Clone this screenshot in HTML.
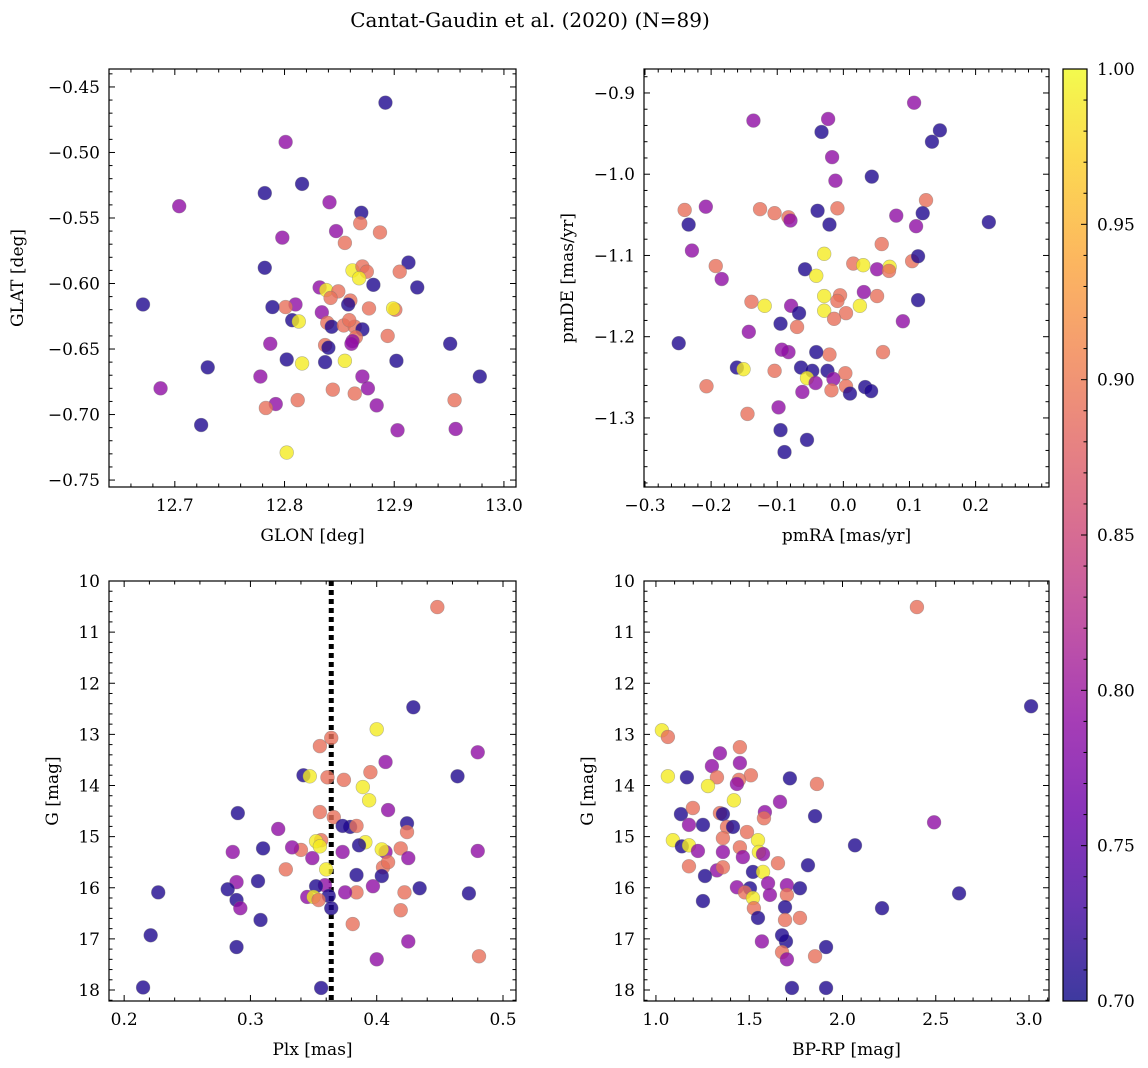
<!DOCTYPE html>
<html><head><meta charset="utf-8"><style>
html,body{margin:0;padding:0;background:#fff;}
svg{display:block;font-family:"DejaVu Serif","Liberation Serif",serif;}
</style></head><body>
<svg id="fig" width="1148" height="1068" viewBox="0 0 1148 1068" xmlns="http://www.w3.org/2000/svg">
<text x="530" y="27" font-size="20" text-anchor="middle">Cantat-Gaudin et al. (2020) (N=89)</text>
</svg>
<script>
// ---- Panel 1: GLON vs GLAT ----
const p1x=[12.892,12.801,12.704,12.816,12.782,12.841,12.870,12.869,12.847,12.887,12.855,12.798,12.782,12.862,12.913,12.905,12.871,12.875,12.868,12.671,12.921,12.881,12.832,12.838,12.849,12.842,12.860,12.858,12.810,12.801,12.789,12.807,12.813,12.901,12.899,12.877,12.834,12.839,12.843,12.854,12.864,12.871,12.859,12.865,12.862,12.837,12.840,12.861,12.894,12.787,12.802,12.816,12.837,12.855,12.902,12.951,12.730,12.687,12.871,12.876,12.844,12.778,12.792,12.783,12.812,12.864,12.884,12.903,12.955,12.956,12.978,12.724,12.802];
const p1y=[-0.462,-0.492,-0.541,-0.524,-0.531,-0.538,-0.546,-0.554,-0.560,-0.561,-0.569,-0.565,-0.588,-0.590,-0.584,-0.591,-0.587,-0.591,-0.596,-0.616,-0.603,-0.601,-0.603,-0.605,-0.606,-0.611,-0.613,-0.616,-0.616,-0.618,-0.618,-0.628,-0.629,-0.620,-0.619,-0.619,-0.622,-0.630,-0.633,-0.632,-0.633,-0.635,-0.628,-0.641,-0.644,-0.647,-0.649,-0.646,-0.640,-0.646,-0.658,-0.661,-0.660,-0.659,-0.659,-0.646,-0.664,-0.680,-0.671,-0.680,-0.681,-0.671,-0.692,-0.695,-0.689,-0.684,-0.693,-0.712,-0.689,-0.711,-0.671,-0.708,-0.729];
const p1p=[0.71,0.79,0.79,0.71,0.71,0.79,0.71,0.89,0.79,0.89,0.89,0.79,0.71,0.99,0.71,0.89,0.89,0.89,0.99,0.71,0.71,0.71,0.79,0.99,0.89,0.89,0.89,0.71,0.79,0.89,0.71,0.71,0.99,0.89,0.99,0.89,0.79,0.89,0.71,0.89,0.89,0.71,0.89,0.89,0.79,0.89,0.71,0.79,0.89,0.79,0.71,0.99,0.71,0.99,0.71,0.71,0.71,0.79,0.79,0.79,0.89,0.79,0.79,0.89,0.89,0.89,0.79,0.79,0.89,0.79,0.71,0.71,0.99];
// ---- Panel 2: pmRA vs pmDE ----
const p2x=[0.107,-0.136,-0.023,0.146,-0.033,0.134,-0.017,-0.012,0.043,0.220,-0.240,-0.208,-0.234,-0.126,-0.104,-0.039,-0.009,0.080,0.125,0.120,0.110,-0.083,-0.080,-0.021,-0.229,-0.193,-0.184,-0.029,-0.058,-0.041,0.015,0.030,0.051,0.070,0.069,0.104,0.113,0.058,-0.029,0.031,0.051,-0.005,-0.139,-0.119,-0.079,0.025,0.113,-0.009,-0.029,0.004,-0.014,-0.067,-0.095,-0.070,0.090,-0.143,-0.249,-0.083,-0.093,0.060,-0.021,-0.041,-0.207,-0.161,-0.151,-0.104,-0.064,-0.047,-0.024,0.003,-0.055,-0.015,-0.042,0.004,-0.018,-0.098,0.033,0.042,0.010,-0.062,-0.145,-0.095,-0.055,-0.089];
const p2y=[-0.912,-0.934,-0.932,-0.946,-0.948,-0.960,-0.979,-1.008,-1.003,-1.059,-1.044,-1.040,-1.062,-1.043,-1.048,-1.045,-1.042,-1.051,-1.032,-1.048,-1.064,-1.053,-1.057,-1.062,-1.094,-1.113,-1.129,-1.098,-1.117,-1.125,-1.110,-1.112,-1.117,-1.114,-1.119,-1.107,-1.101,-1.086,-1.150,-1.145,-1.150,-1.149,-1.157,-1.162,-1.162,-1.162,-1.155,-1.156,-1.168,-1.171,-1.178,-1.171,-1.184,-1.188,-1.181,-1.194,-1.208,-1.219,-1.216,-1.219,-1.222,-1.219,-1.261,-1.238,-1.240,-1.242,-1.238,-1.242,-1.242,-1.245,-1.251,-1.252,-1.257,-1.261,-1.266,-1.287,-1.262,-1.267,-1.270,-1.268,-1.295,-1.315,-1.327,-1.342];
const p2p=[0.79,0.79,0.79,0.71,0.71,0.71,0.79,0.79,0.71,0.71,0.89,0.79,0.71,0.89,0.89,0.71,0.89,0.79,0.89,0.71,0.79,0.89,0.79,0.71,0.79,0.89,0.79,0.99,0.71,0.99,0.89,0.99,0.79,0.99,0.89,0.89,0.71,0.89,0.99,0.79,0.89,0.89,0.89,0.99,0.79,0.99,0.71,0.89,0.99,0.89,0.89,0.71,0.71,0.89,0.79,0.79,0.71,0.79,0.79,0.89,0.89,0.71,0.89,0.71,0.99,0.89,0.71,0.71,0.71,0.89,0.99,0.79,0.79,0.89,0.89,0.79,0.71,0.71,0.71,0.79,0.89,0.71,0.71,0.71];
// ---- Panel 3: Plx vs G ----
const p3x=[0.448,0.429,0.400,0.355,0.364,0.480,0.407,0.395,0.342,0.347,0.361,0.374,0.389,0.464,0.394,0.409,0.355,0.290,0.366,0.424,0.379,0.322,0.424,0.373,0.384,0.356,0.352,0.391,0.386,0.340,0.333,0.355,0.286,0.310,0.407,0.404,0.419,0.349,0.373,0.405,0.328,0.360,0.409,0.425,0.404,0.480,0.289,0.306,0.384,0.359,0.352,0.397,0.345,0.362,0.282,0.422,0.434,0.384,0.375,0.227,0.473,0.350,0.354,0.289,0.292,0.364,0.419,0.308,0.381,0.221,0.425,0.289,0.400,0.481,0.215,0.356];
const p3y=[10.51,12.47,12.90,13.23,13.07,13.35,13.54,13.74,13.80,13.82,13.84,13.89,14.03,13.82,14.29,14.48,14.52,14.54,14.62,14.74,14.81,14.85,14.91,14.79,14.79,15.07,15.09,15.11,15.17,15.26,15.21,15.19,15.30,15.23,15.30,15.25,15.23,15.42,15.30,15.60,15.64,15.64,15.50,15.42,15.77,15.28,15.89,15.87,15.75,15.95,15.97,15.97,16.18,16.16,16.03,16.09,16.01,16.09,16.09,16.09,16.11,16.18,16.24,16.24,16.40,16.40,16.44,16.63,16.71,16.93,17.05,17.16,17.40,17.34,17.95,17.96];
const p3p=[0.89,0.71,0.99,0.89,0.89,0.79,0.79,0.89,0.71,0.99,0.89,0.89,0.99,0.71,0.99,0.79,0.89,0.71,0.89,0.71,0.71,0.79,0.89,0.71,0.89,0.89,0.99,0.99,0.71,0.89,0.79,0.99,0.79,0.71,0.79,0.99,0.89,0.79,0.79,0.89,0.89,0.99,0.89,0.79,0.71,0.79,0.79,0.71,0.71,0.79,0.71,0.79,0.79,0.71,0.71,0.89,0.71,0.89,0.79,0.71,0.71,0.99,0.89,0.71,0.79,0.71,0.89,0.71,0.89,0.71,0.79,0.71,0.79,0.89,0.71,0.71];
const plxLine=0.364;
// ---- Panel 4: BP-RP vs G ----
const p4x=[1.032,1.064,1.343,1.450,1.450,1.300,1.509,1.445,1.434,1.327,1.166,1.064,1.279,1.718,1.863,1.418,1.665,1.584,1.579,1.853,1.134,1.198,1.343,1.359,1.177,1.252,1.381,1.413,1.488,1.359,1.091,1.139,1.177,1.225,1.450,1.547,1.552,1.574,1.359,1.466,2.067,1.177,1.327,1.359,1.263,1.520,1.574,1.654,1.815,1.434,1.504,1.477,1.520,1.525,1.601,1.611,1.702,1.702,1.772,1.252,1.692,1.547,1.692,1.772,1.697,1.568,1.676,1.676,1.702,1.853,1.912,1.729,1.912,2.399,3.011,2.491,2.625,2.212];
const p4y=[12.92,13.05,13.37,13.25,13.56,13.62,13.80,13.89,13.97,13.84,13.84,13.82,14.01,13.86,13.97,14.29,14.32,14.52,14.64,14.60,14.56,14.44,14.54,14.56,14.77,14.77,14.81,14.81,14.91,15.03,15.07,15.19,15.17,15.28,15.21,15.07,15.30,15.34,15.30,15.40,15.17,15.58,15.66,15.60,15.77,15.69,15.69,15.52,15.56,15.99,16.01,16.09,16.20,16.40,15.91,16.14,15.95,16.14,16.01,16.26,16.38,16.59,16.63,16.59,17.05,17.05,16.93,17.26,17.40,17.34,17.16,17.96,17.96,10.51,12.45,14.72,16.11,16.40];
const p4p=[0.99,0.89,0.79,0.89,0.79,0.79,0.89,0.89,0.79,0.89,0.71,0.99,0.99,0.71,0.89,0.99,0.79,0.79,0.89,0.71,0.71,0.89,0.89,0.71,0.79,0.71,0.89,0.71,0.89,0.89,0.99,0.71,0.99,0.79,0.89,0.99,0.99,0.79,0.79,0.79,0.71,0.89,0.79,0.89,0.71,0.71,0.99,0.89,0.71,0.79,0.71,0.89,0.99,0.89,0.79,0.79,0.79,0.89,0.71,0.71,0.71,0.71,0.89,0.89,0.71,0.79,0.71,0.89,0.79,0.89,0.71,0.71,0.71,0.89,0.71,0.79,0.71,0.71];
// ---- Colorbar ----
const cbTicks=[0.70,0.75,0.80,0.85,0.90,0.95,1.00];

const NS="http://www.w3.org/2000/svg";
const svg=document.getElementById('fig');
function mk(tag,attrs,parent){const e=document.createElementNS(NS,tag);for(const k in attrs)e.setAttribute(k,attrs[k]);(parent||svg).appendChild(e);return e;}
const stops=[[0,"#0d0887"],[0.1,"#41049d"],[0.2,"#6a00a8"],[0.3,"#8f0da4"],[0.4,"#b12a90"],[0.5,"#cc4778"],[0.6,"#e16462"],[0.7,"#f2844b"],[0.8,"#fca636"],[0.9,"#fcce25"],[1,"#f0f921"]];
function hx(h){return [1,3,5].map(i=>parseInt(h.substr(i,2),16));}
function plasma(t){t=Math.max(0,Math.min(1,t));for(let i=1;i<stops.length;i++){if(t<=stops[i][0]){const a=stops[i-1],b=stops[i];const f=(t-a[0])/(b[0]-a[0]);const ca=hx(a[1]),cb=hx(b[1]);return "rgb("+ca.map((v,j)=>Math.round(v+(cb[j]-v)*f)).join(",")+")";}}return stops[10][1];}
const vmin=0.7,vmax=1.0;
function fmt(v,d){const s=Math.abs(v).toFixed(d);return (v< -1e-9?"\u2212":"")+s;}
const FS=17;

function panel(cfg){
  const {name,L,R,T,B,xlim,ylim,invY,xt,yt,xd,yd,xm,ym,xlab,ylab,ylabX,xs,ys,ps}=cfg;
  const g=mk('g',{});
  
  
  const sx=v=>L+(v-xlim[0])/(xlim[1]-xlim[0])*(R-L);
  const sy=invY?(v=>T+(v-ylim[0])/(ylim[1]-ylim[0])*(B-T)):(v=>B-(v-ylim[0])/(ylim[1]-ylim[0])*(B-T));
  const clip=mk('clipPath',{id:name+'-clip'},g);mk('rect',{x:L,y:T,width:R-L,height:B-T},clip);
  const pts=mk('g',{'clip-path':'url(#'+name+'-clip)'},g);
  
  
  if(cfg.vline!==undefined){const l=mk('line',{x1:sx(cfg.vline),x2:sx(cfg.vline),y1:T,y2:B,stroke:'#000','stroke-width':5,'stroke-dasharray':'5,4'},pts);
    
    }
  for(let i=0;i<xs.length;i++){
    const c=mk('circle',{cx:sx(xs[i]),cy:sy(ys[i]),r:6.9,fill:plasma((ps[i]-vmin)/(vmax-vmin)),'fill-opacity':0.8,stroke:'#777','stroke-opacity':0.5,'stroke-width':0.6},pts);
    
    
  }
  const fr=mk('rect',{x:L,y:T,width:R-L,height:B-T,fill:'none',stroke:'#000','stroke-width':1.2},g);
  
  
  const tk=mk('g',{stroke:'#000','stroke-width':1},g);
  const eps=1e-9;
  const x0=Math.min(...xlim),x1=Math.max(...xlim),y0=Math.min(...ylim),y1=Math.max(...ylim);
  for(let v=Math.ceil(x0/xm-eps)*xm;v<=x1+eps;v+=xm){const isM=xt.some(t=>Math.abs(t-v)<xm/10);const len=isM?6:3.5;const X=sx(v);
    mk('line',{x1:X,x2:X,y1:B,y2:B-len},tk);mk('line',{x1:X,x2:X,y1:T,y2:T+len},tk);}
  for(let v=Math.ceil(y0/ym-eps)*ym;v<=y1+eps;v+=ym){const isM=yt.some(t=>Math.abs(t-v)<ym/10);const len=isM?6:3.5;const Y=sy(v);
    mk('line',{x1:L,x2:L+len,y1:Y,y2:Y},tk);mk('line',{x1:R,x2:R-len,y1:Y,y2:Y},tk);}
  xt.forEach(v=>{const t=mk('text',{x:sx(v),y:B+24,'font-size':FS,'text-anchor':'middle'},g);t.textContent=fmt(v,xd);
    
    });
  yt.forEach(v=>{const t=mk('text',{x:L-9,y:sy(v)+6,'font-size':FS,'text-anchor':'end'},g);t.textContent=fmt(v,yd);
    
    });
  const xl=mk('text',{x:(L+R)/2,y:B+54,'font-size':FS,'text-anchor':'middle'},g);xl.textContent=xlab;
  
  
  const yc=(T+B)/2;
  const yl=mk('text',{x:ylabX,y:yc,'font-size':FS,'text-anchor':'middle',transform:'rotate(-90 '+ylabX+' '+yc+')'},g);yl.textContent=ylab;
  
  
}
panel({name:'glon-glat-panel',L:109,R:516,T:69,B:487,xlim:[12.640,13.011],ylim:[-0.7553,-0.4363],xt:[12.7,12.8,12.9,13.0],yt:[-0.75,-0.70,-0.65,-0.60,-0.55,-0.50,-0.45],xd:1,yd:2,xm:0.02,ym:0.01,xlab:'GLON [deg]',ylab:'GLAT [deg]',ylabX:23,xs:p1x,ys:p1y,ps:p1p});
panel({name:'proper-motion-panel',L:644,R:1049,T:69,B:487,xlim:[-0.3015,0.311],ylim:[-1.385,-0.8705],xt:[-0.3,-0.2,-0.1,0.0,0.1,0.2],yt:[-1.3,-1.2,-1.1,-1.0,-0.9],xd:1,yd:1,xm:0.02,ym:0.02,xlab:'pmRA [mas/yr]',ylab:'pmDE [mas/yr]',ylabX:573,xs:p2x,ys:p2y,ps:p2p});
panel({name:'parallax-panel',L:109,R:516,T:581,B:1001,xlim:[0.188,0.5103],ylim:[10,18.215],invY:true,xt:[0.2,0.3,0.4,0.5],yt:[10,11,12,13,14,15,16,17,18],xd:1,yd:0,xm:0.02,ym:0.2,xlab:'Plx [mas]',ylab:'G [mag]',ylabX:58,xs:p3x,ys:p3y,ps:p3p,vline:plxLine});
panel({name:'cmd-panel',L:644,R:1049,T:581,B:1001,xlim:[0.936,3.107],ylim:[10,18.215],invY:true,xt:[1.0,1.5,2.0,2.5,3.0],yt:[10,11,12,13,14,15,16,17,18],xd:1,yd:0,xm:0.1,ym:0.2,xlab:'BP-RP [mag]',ylab:'G [mag]',ylabX:593,xs:p4x,ys:p4y,ps:p4p});

const cb=mk('g',{});


const defs=mk('defs',{},cb);
const lg=mk('linearGradient',{id:'cbgrad',x1:0,y1:1,x2:0,y2:0},defs);
for(let i=0;i<=20;i++){mk('stop',{offset:i/20,'stop-color':plasma(i/20),'stop-opacity':0.8},lg);}
const CL=1063,CR=1087,CT=69,CB=1001;
mk('rect',{x:CL,y:CT,width:CR-CL,height:CB-CT,fill:'url(#cbgrad)',stroke:'#000','stroke-width':1.2},cb);
const cy=v=>CB-(v-vmin)/(vmax-vmin)*(CB-CT);
for(let v=0.70;v<=1.0001;v+=0.01){const major=cbTicks.some(t=>Math.abs(t-v)<0.001);mk('line',{x1:CR,x2:CR-(major?6:3.5),y1:cy(v),y2:cy(v),stroke:'#000','stroke-width':1},cb);}
cbTicks.forEach(v=>{const t=mk('text',{x:1097,y:cy(v)+6,'font-size':FS},cb);t.textContent=v.toFixed(2);
  
  });
</script>
</body></html>
